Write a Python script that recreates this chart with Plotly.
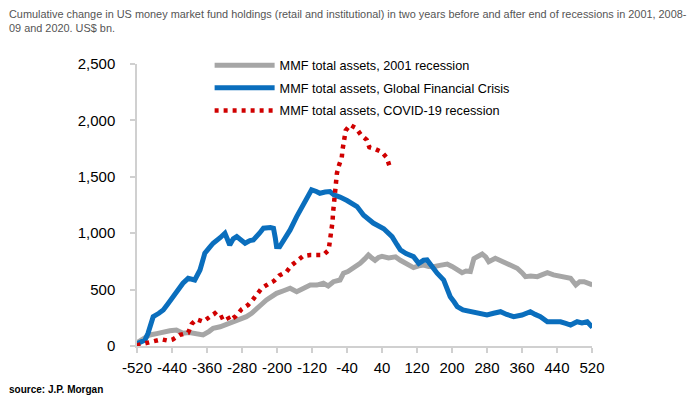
import plotly.graph_objects as go

# ---- data ----
title_text = ("Cumulative change in US money market fund holdings (retail and institutional) in two years before and after end of recessions in 2001, 2008-"
              "<br>09 and 2020. US$ bn.")
source_text = "<b>source: J.P. Morgan</b>"

x_ticks = [-520, -440, -360, -280, -200, -120, -40, 40, 120, 200, 280, 360, 440, 520]
x_tick_labels = ["-520", "-440", "-360", "-280", "-200", "-120", "-40", "40", "120", "200", "280", "360", "440", "520"]
y_ticks = [0, 500, 1000, 1500, 2000, 2500]
y_tick_labels = ["0", "500", "1,000", "1,500", "2,000", "2,500"]

name_2001 = "MMF total assets, 2001 recession"
x_2001 = [-520, -505, -491, -475, -460, -445, -430, -415, -400, -384, -369, -355, -346, -330, -308, -290,
          -270, -258, -247, -235, -224, -212, -201, -185, -170, -155, -140, -124, -109, -94, -83, -71,
          -56, -48, -38, -25, -10, 0, 9, 17, 24, 32, 40, 55, 71, 82, 97, 112, 124, 135, 147, 158, 172,
          189, 200, 207, 215, 223, 232, 242, 250, 258, 269, 277, 284, 299, 312, 326, 338, 349, 360, 368,
          380, 395, 405, 418, 432, 448, 460, 471, 483, 492, 502, 512, 521]
v_2001 = [30, 70, 98, 110, 127, 135, 142, 113, 120, 113, 98, 130, 157, 170, 201, 225,
          260, 290, 334, 370, 408, 440, 467, 490, 512, 482, 510, 541, 540, 556, 532, 570,
          585, 645, 660, 690, 733, 770, 807, 780, 760, 785, 795, 780, 790, 760, 733, 695, 710, 718, 705, 703, 715,
          727, 705, 689, 670, 650, 665, 660, 775, 790, 816, 790, 748, 778, 755, 733, 715, 689, 650, 615,
          620, 615, 630, 650, 630, 620, 610, 600, 541, 570, 570, 550, 541]

name_gfc = "MMF total assets, Global Financial Crisis"
x_gfc = [-520, -510, -502, -495, -491, -483, -470, -460, -450, -438, -425, -415, -403, -395, -388, -376,
         -365, -355, -346, -330, -319, -308, -300, -292, -280, -273, -262, -254, -240, -231, -215, -208,
         -204, -201, -194, -186, -170, -155, -140, -128, -121, -110, -102, -90, -79, -70, -63, -56, -40,
         -17, -2, 5, 20, 44, 63, 74, 82, 95, 112, 124, 135, 143, 155, 166, 181, 196, 205, 212, 225, 242,
         255, 265, 280, 295, 311, 325, 341, 360, 379, 390, 402, 418, 433, 448, 460, 471, 486, 497, 509, 521]
v_gfc = [20, 35, 53, 110, 171, 260, 290, 319, 370, 437, 500, 556, 600, 590, 585, 674,
         822, 870, 911, 960, 1000, 896, 950, 970, 930, 911, 935, 940, 1000, 1044, 1050, 1044,
         960, 881, 880, 925, 1029, 1147, 1251, 1320, 1384, 1370, 1354, 1365, 1369, 1340, 1325, 1320, 1290,
         1236, 1160, 1133, 1090, 1040, 970, 900, 852, 820, 792, 733, 760, 763, 700, 645, 585, 437, 390, 349, 320, 304,
         295, 290, 275, 290, 304, 280, 260, 275, 304, 280, 260, 215, 220, 215, 200, 186, 215, 205, 215, 166]

name_covid = "MMF total assets, COVID-19 recession"
x_covid = [-521, -502, -483, -464, -449, -438, -422, -403, -395, -384, -369, -353, -342, -331, -315, -308,
           -294, -281, -266, -254, -235, -220, -207, -195, -178, -166, -155, -140, -124, -109, -94, -82,
           -78, -76, -73, -72, -69, -66, -65, -63, -58, -52, -50, -46, -43, -33, -19, -8, 5, 11, 24, 40, 51, 57]
v_covid = [5, 24, 38, 59, 47, 59, 98, 118, 195, 237, 216, 260, 290, 246, 275, 225,
           266, 325, 364, 417, 512, 550, 576, 624, 659, 718, 748, 798, 807, 804, 807, 850,
           949, 1023, 1103, 1177, 1272, 1360, 1437, 1532, 1605, 1670, 1745, 1833, 1910, 1960, 1931, 1871,
           1827, 1762, 1747, 1718, 1670, 1597]

# ---- figure ----
fig = go.Figure()
fig.add_trace(go.Scatter(x=x_2001, y=v_2001, name=name_2001, mode="lines",
                         line=dict(color="#a6a6a6", width=5), legendgroup="a"))
fig.add_trace(go.Scatter(x=x_gfc, y=v_gfc, name=name_gfc, mode="lines",
                         line=dict(color="#0a6ebd", width=5), legendgroup="b"))
fig.add_trace(go.Scatter(x=x_covid, y=v_covid, name=name_covid, mode="lines",
                         line=dict(color="#d00000", width=4.5, dash="4px,5px"), legendgroup="c"))

axis_font = dict(family="Arial, Liberation Sans, sans-serif", size=15, color="#000000")

# page has an 8px body margin: figure is sized so it fits the 700x397 window
fig.update_layout(
    width=692, height=389,
    margin=dict(l=129, r=108, t=56, b=51),
    paper_bgcolor="white", plot_bgcolor="white",
    font=dict(family="Arial, Liberation Sans, sans-serif", color="#000000"),
    showlegend=True,
    legend=dict(x=0.1596, y=1.0475, xanchor="left", yanchor="top",
                font=dict(size=12.7, color="#000000"),
                bgcolor="rgba(0,0,0,0)", itemwidth=60,
                traceorder="grouped", tracegroupgap=3),
    xaxis=dict(range=[-520, 520], tickmode="array", tickvals=x_ticks, ticktext=x_tick_labels,
               tickangle=0,
               showgrid=False, zeroline=False, showline=True, linecolor="#d0d0d0", linewidth=1.5,
               ticks="outside", ticklen=5, tickcolor="#d0d0d0", tickwidth=1.5,
               tickfont=axis_font, ticklabelstandoff=2),
    yaxis=dict(range=[0, 2500], tickmode="array", tickvals=y_ticks, ticktext=y_tick_labels,
               showgrid=False, zeroline=False, showline=True, linecolor="#d0d0d0", linewidth=1.5,
               ticks="outside", ticklen=5, tickcolor="#d0d0d0", tickwidth=1.5,
               tickfont=axis_font, ticklabelstandoff=12),
    annotations=[
        dict(text=title_text, xref="paper", yref="paper", x=-129 / 455, y=1 + 56 / 282,
             xanchor="left", yanchor="top", showarrow=False, align="left",
             xshift=-1, yshift=2,
             font=dict(family="Arial, Liberation Sans, sans-serif", size=10.9, color="#555555")),
        dict(text=source_text, xref="paper", yref="paper", x=-129 / 455, y=-51 / 282,
             xanchor="left", yanchor="bottom", showarrow=False, align="left",
             xshift=-1, yshift=0,
             font=dict(family="Liberation Sans, Arial, sans-serif", size=10, color="#000000")),
    ],
)

fig.write_html("out.html")
